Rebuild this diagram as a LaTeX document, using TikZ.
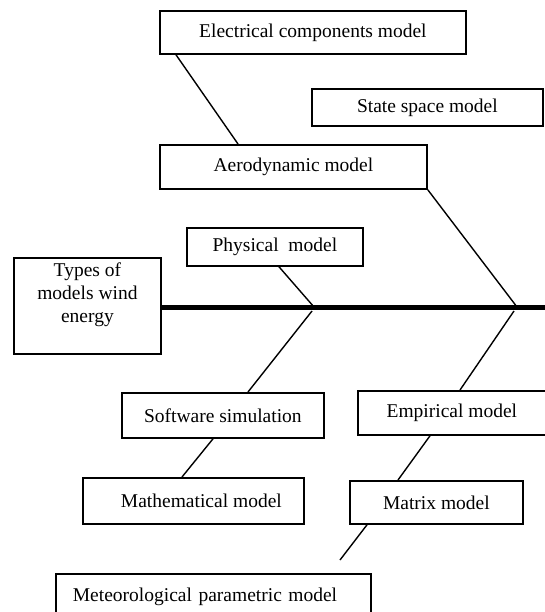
\documentclass[tikz,border=0pt]{standalone}
\usepackage{fontspec}
\setmainfont{Liberation Serif}
\begin{document}
\begin{tikzpicture}[x=1pt,y=-1pt,
  box/.style={draw=black,line width=1.8pt,rectangle,inner sep=0pt,anchor=north west,font=\fontsize{19.5}{23}\selectfont},
  conn/.style={draw=black,line width=1.4pt},
  spine/.style={draw=black,line width=5pt}]
\useasboundingbox (0,0) rectangle (545,612);
% boxes
\node[box,minimum width=306pt,minimum height=43pt] (elec) at (159,10) {Electrical components model};
\node[box,minimum width=231pt,minimum height=37pt] (state) at (311,88) {State space model};
\node[box,minimum width=267pt,minimum height=44pt] (aero) at (159,144) {Aerodynamic model};
\node[box,minimum width=176pt,minimum height=38pt] (phys) at (186,227) {Physical\ \ model};
\node[box,minimum width=147pt,minimum height=96pt,align=center] (types) at (13,257) {Types of\\models wind\\energy\\[3pt]\mbox{}};
\node[box,minimum width=202pt,minimum height=45pt] (soft) at (121,392) {Software simulation};
\node[box,minimum width=200pt,minimum height=44pt] (emp) at (357,390) {\hspace*{-12pt}Empirical model};
\node[box,minimum width=221pt,minimum height=46pt] (math) at (82,477) {\hspace*{16pt}Mathematical model};
\node[box,minimum width=173pt,minimum height=43pt] (matrix) at (349,480) {Matrix model};
\node[box,minimum height=46pt,inner xsep=17pt,text width=281pt,align=left] (meteo) at (55,573) {Meteorological parametric model};
% spine
\coordinate (j1) at (314,307);
\coordinate (j2) at (517,307);
\coordinate (jb1) at (312,311);
\coordinate (jb2) at (514,311);
\coordinate (spineend) at (548,307);
\coordinate (free) at (340,560);
\draw[spine] (types.east |- j1) -- (spineend);
% connectors
\draw[conn] ([xshift=17pt]elec.south west) -- ([xshift=79pt]aero.north west);
\draw[conn] (aero.south east) -- (j2);
\draw[conn] ([xshift=93pt]phys.south west) -- (j1);
\draw[conn] (jb1) -- ([xshift=127pt]soft.north west);
\draw[conn] (jb2) -- ([xshift=103pt]emp.north west);
\draw[conn] ([xshift=92pt]soft.south west) -- ([xshift=100pt]math.north west);
\draw[conn] ([xshift=73pt]emp.south west) -- ([xshift=49pt]matrix.north west);
\draw[conn] ([xshift=18pt]matrix.south west) -- (free);
\end{tikzpicture}
\end{document}
